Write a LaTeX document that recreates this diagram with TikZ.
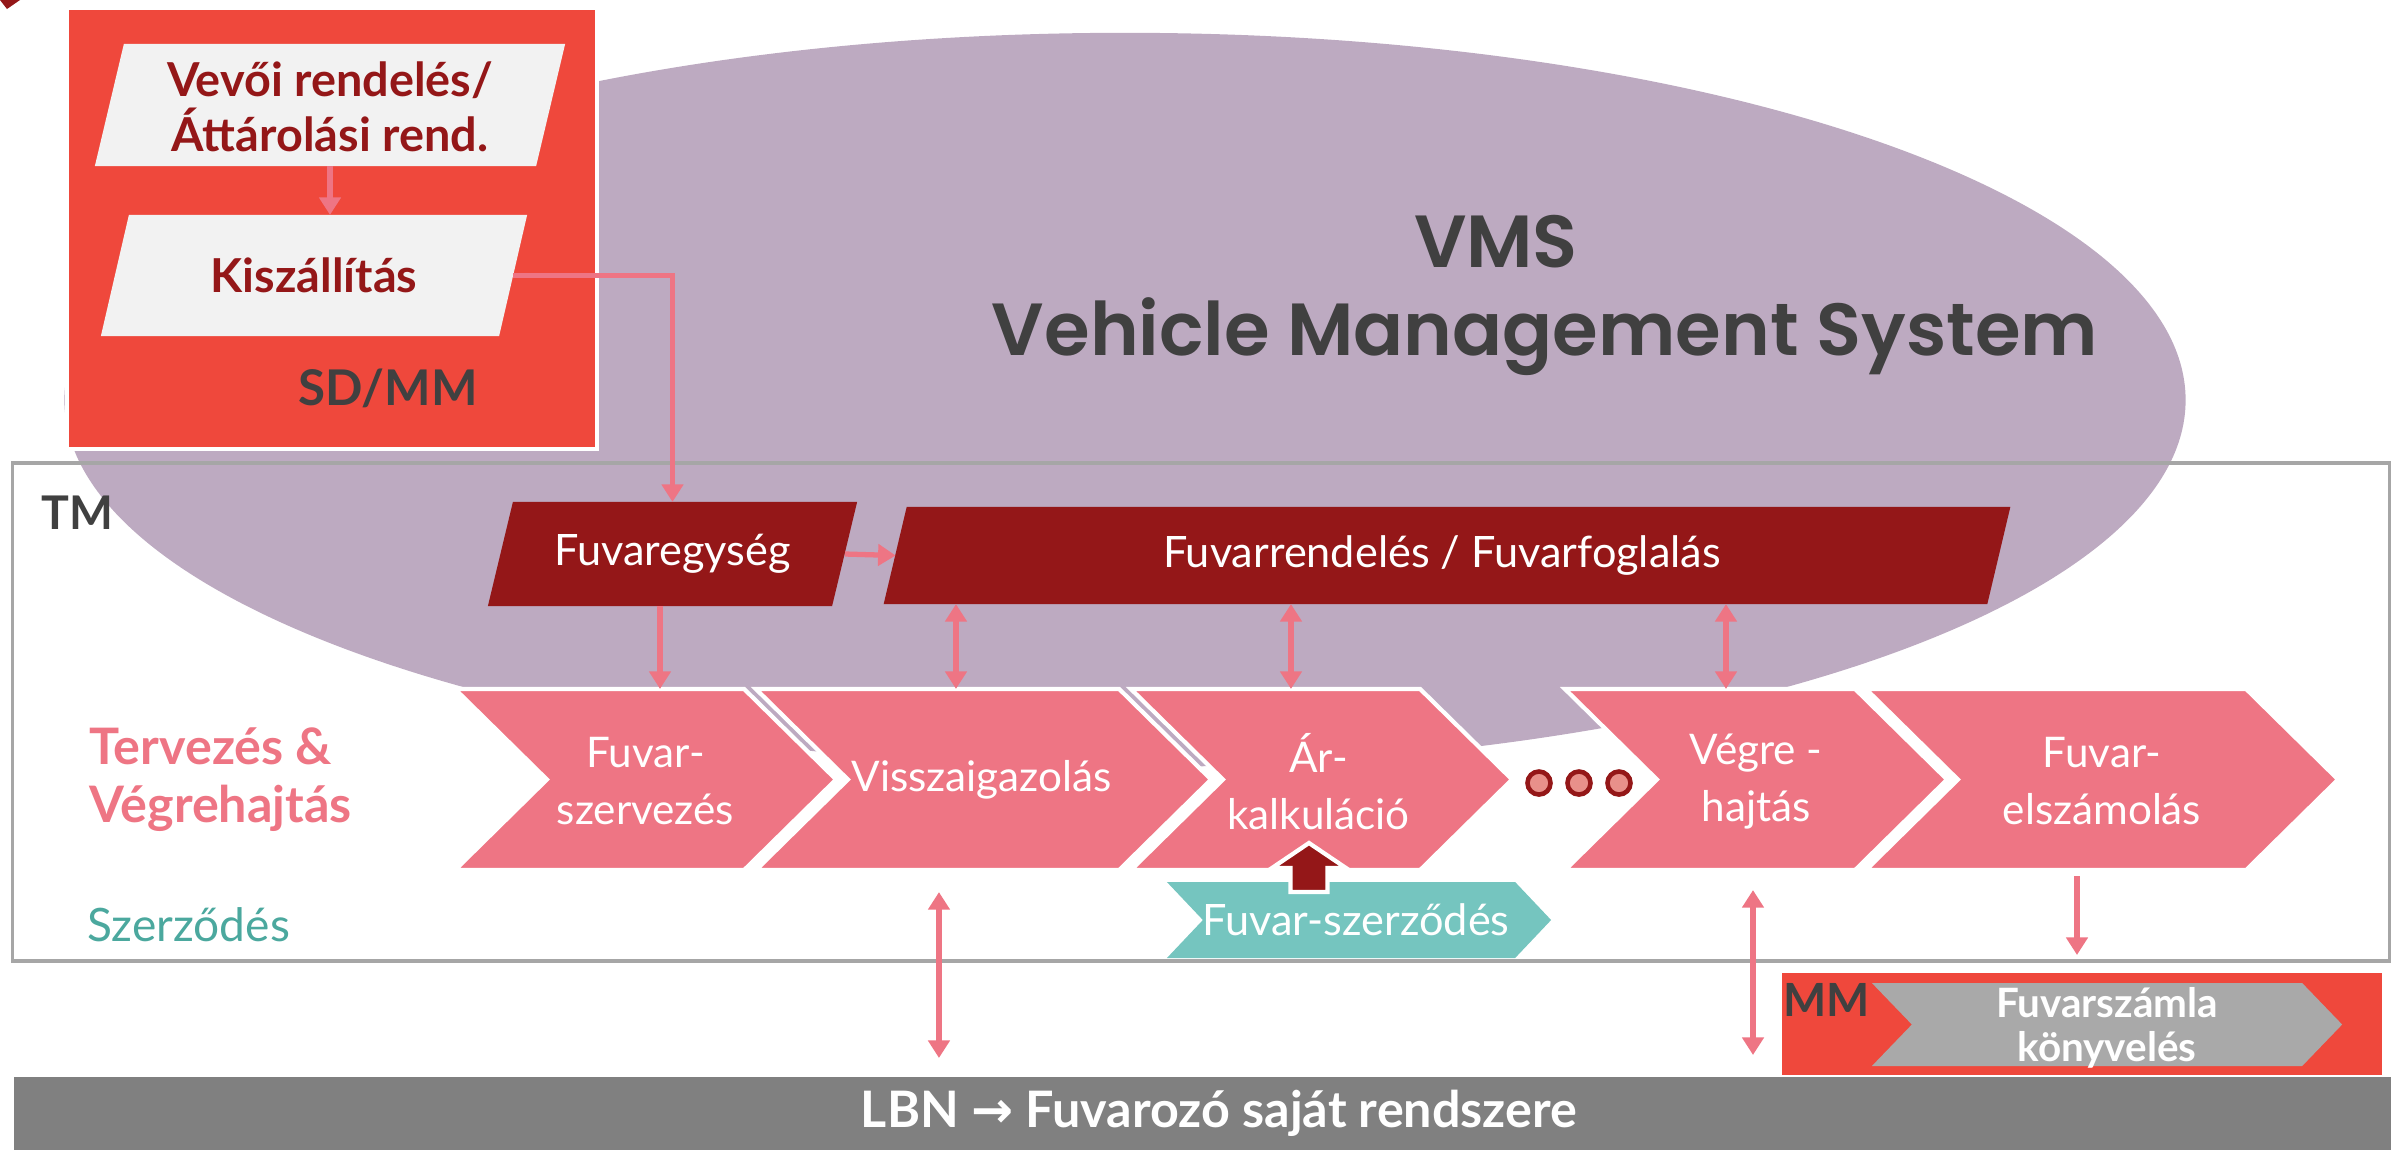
\documentclass[tikz,border=0pt]{standalone}
\usepackage{fontspec}
\setmainfont{Lato}
\newfontfamily\vmsf{Poppins}[BoldFont={Poppins SemiBold}]
\newfontfamily\djv{DejaVu Sans}
\usetikzlibrary{arrows.meta,calc}
\definecolor{boxred}{RGB}{239,72,60}
\definecolor{dred}{RGB}{148,23,24}
\definecolor{pinkc}{RGB}{238,117,132}
\definecolor{vmsc}{RGB}{189,170,193}
\definecolor{lgray}{RGB}{242,242,242}
\definecolor{tgray}{RGB}{64,64,64}
\definecolor{tmgray}{RGB}{166,166,166}
\definecolor{tealc}{RGB}{117,197,191}
\definecolor{tealt}{RGB}{75,168,158}
\definecolor{barg}{RGB}{128,128,128}
\definecolor{chg}{RGB}{169,169,169}
\definecolor{dotc}{RGB}{232,144,138}
\newcommand\mypgram[3]{\path[#1] ($(#2.north west)+(#3,0)$) -- (#2.north east) -- ($(#2.south east)+(-#3,0)$) -- (#2.south west) -- cycle;}
\newcommand\mychev[3]{\path[#1] (#2.north west) -- ($(#2.north east)+(-#3,0)$) -- (#2.east) -- ($(#2.south east)+(-#3,0)$) -- (#2.south west) -- ($(#2.west)+(#3,0)$) -- cycle;}
\begin{document}
\begin{tikzpicture}[x=0.01cm,y=-0.01cm,
  geo/.style 2 args={minimum width=#1cm,minimum height=#2cm,inner sep=0pt,outer sep=0pt},
  parr/.style={draw=pinkc,line width=1.5pt,-{Triangle[length=5pt,width=6pt]}},
  pdbl/.style={draw=pinkc,line width=1.5pt,{Triangle[length=5pt,width=6pt]}-{Triangle[length=5pt,width=6pt]}},
  chevtxt/.style={text=white,align=center,font=\fontsize{12}{16.2}\selectfont},
  lbl/.style={inner sep=0pt}]
\useasboundingbox (0,0) rectangle (2405,1150);
% corner fragment
\fill[dred] (0,0) -- (20,0) -- (7,9) -- cycle;
% VMS ellipse
\fill[vmsc] (1125,400) ellipse [x radius=10.6cm, y radius=3.67cm];
\node[anchor=base, lbl, text=tgray, font=\vmsf\fontsize{21}{26}\selectfont\bfseries] (vms1) at (1496,267) {VMS};
\node[anchor=base, lbl, text=tgray, font=\vmsf\fontsize{21}{26}\selectfont\bfseries] (vms2) at (1545,355) {Vehicle Management System};
% TM frame
\node[geo={23.76}{4.98}, draw=tmgray, line width=1pt] (tm) at (1201,712) {};
\node[anchor=base west, lbl, text=tgray, font=\fontsize{13.2}{16}\selectfont\bfseries] (tmlbl) at (41,529) {TM};
% SD/MM
\node[geo={5.30}{4.41}, fill=boxred, draw=white, line width=1.2pt] (sdmm) at (332,228.5) {};
\node[geo={4.70}{1.22}] (vevo) at (330,105) {};
\mypgram{fill=lgray}{vevo}{29}
\node[text=dred, align=center, font=\fontsize{13.3}{15.6}\selectfont\bfseries] (vevot) at ([yshift=-0.02cm]vevo.center) {Vevői rendelés/\\Áttárolási rend.};
\node[geo={4.26}{1.21}] (kisz) at (314,275.5) {};
\mypgram{fill=lgray}{kisz}{28}
\node[text=dred, font=\fontsize{13.3}{15.6}\selectfont\bfseries] (kiszt) at (kisz) {Kiszállítás};
\draw[parr] (vevo.south) -- (vevo.south |- kisz.north);
\node[anchor=base, lbl, text=tgray, font=\fontsize{14}{17}\selectfont\bfseries] (sdmmt) at (388,405) {SD/MM};
% Fuvaregyseg / Fuvarrendeles
\node[geo={3.69}{1.04}] (fe) at (672.5,554) {};
\mypgram{fill=dred}{fe}{25}
\node[text=white, font=\fontsize{12.3}{15}\selectfont] (fet) at (fe) {Fuvaregység};
\node[geo={11.26}{0.97}] (fr) at (1447,555.5) {};
\mypgram{fill=dred}{fr}{23}
\node[text=white, font=\fontsize{12.3}{15}\selectfont] (frt) at ([xshift=-0.05cm]fr.center) {Fuvarrendelés / Fuvarfoglalás};
\draw[parr] ($(kisz.east)+(-14,0)$) -| (fe.north);
\draw[parr] ($(fe.east)+(-12,0)$) -- ($(fr.west)+(12,0)$);
% chevrons
\node[geo={3.81}{1.81}] (c1) at (645.5,779.5) {};
\node[geo={4.55}{1.81}] (c2) at (983.5,779.5) {};
\node[geo={3.81}{1.81}] (c3) at (1321.5,779.5) {};
\node[geo={3.82}{1.81}] (c4) at (1756,779.5) {};
\node[geo={4.72}{1.81}] (c5) at (2102,779.5) {};
\foreach \c in {c1,c2,c3,c4,c5} {\mychev{fill=pinkc,draw=white,line width=1.2pt}{\c}{92}}
\node[chevtxt] (c1t) at ([yshift=-0.02cm]c1.center) {Fuvar-\\szervezés};
\node[chevtxt] (c2t) at ([xshift=-0.02cm]c2.center) {Visszaigazolás};
\node[chevtxt] (c3t) at ([xshift=-0.03cm,yshift=-0.02cm]c3.center) {Ár-\\kalkuláció};
\node[chevtxt] (c4t) at ([yshift=-0.02cm]c4.center) {Végre -\\hajtás};
\node[chevtxt] (c5t) at ([yshift=-0.02cm]c5.center) {Fuvar-\\elszámolás};
\foreach \x in {1539,1579,1619} {\draw[dred, fill=dotc, line width=1.3pt] (\x,783) circle [radius=0.115cm];}
% vertical connectors
\coordinate (a1) at ([xshift=-0.125cm]fe.south);
\draw[parr] (a1) -- (a1 |- c1.north);
\coordinate (a2) at ([xshift=-0.275cm]c2.north);
\draw[pdbl] (a2 |- fr.south) -- (a2);
\coordinate (a3) at ([xshift=-0.305cm]c3.north);
\draw[pdbl] (a3 |- fr.south) -- (a3);
\coordinate (a4) at ([xshift=-0.30cm]c4.north);
\draw[pdbl] (a4 |- fr.south) -- (a4);
% left labels
\node[anchor=west, lbl, align=left, text=pinkc, font=\fontsize{14.3}{16.5}\selectfont\bfseries] (tv) at (89,780) {Tervezés \&\\Végrehajtás};
\node[anchor=base west, lbl, text=tealt, font=\fontsize{13.1}{15}\selectfont] (szl) at (87,941) {Szerződés};
% Fuvar-szerzodes
\node[geo={3.84}{0.76}] (fsz) at (1359,920) {};
\mychev{fill=tealc}{fsz}{36}
\node[text=white, font=\fontsize{12.3}{15}\selectfont] (fszt) at ([xshift=-0.03cm]fsz.center) {Fuvar-szerződés};
\coordinate (ua) at ([xshift=-0.5cm]fsz.north);
\filldraw[fill=dred, draw=white, line width=1.2pt] (ua) ++(-18.5,10) -- ++(0,-24) -- ++(-18.5,0) -- ++(37,-25) -- ++(37,25) -- ++(-18.5,0) -- ++(0,24) -- cycle;
% bottom
\node[geo={23.75}{0.73}, fill=barg] (lbn) at (1202.5,1113.5) {};
\node[text=white, font=\fontsize{14.3}{16}\selectfont\bfseries] (lbnt) at ([xshift=0.165cm]lbn.center) {LBN {\djv →} Fuvarozó saját rendszere};
\node[geo={6.02}{1.04}, fill=boxred, draw=white, line width=0.5pt] (mm) at (2082,1024) {};
\node[anchor=base west, lbl, text=tgray, font=\fontsize{13}{15}\selectfont\bfseries] (mmt) at (1783,1016) {MM};
\node[geo={4.70}{0.83}] (fk) at (2107,1024.5) {};
\mychev{fill=chg}{fk}{40}
\node[text=white, align=center, font=\fontsize{11.5}{12.6}\selectfont\bfseries] (fkt) at ([yshift=-0.03cm]fk.center) {Fuvarszámla\\könyvelés};
\coordinate (a5) at ([xshift=-0.445cm]c2.south);
\draw[pdbl, shorten <=0.22cm, shorten >=0.19cm] (a5) -- (a5 |- lbn.north);
\coordinate (a6) at ([xshift=-0.03cm]c4.south);
\draw[pdbl, shorten <=0.2cm, shorten >=0.22cm] (a6) -- (a6 |- lbn.north);
\coordinate (a7) at ([xshift=-0.25cm]c5.south);
\draw[parr, shorten <=0.06cm, shorten >=0.17cm] (a7) -- (a7 |- mm.north);
\end{tikzpicture}
\end{document}
